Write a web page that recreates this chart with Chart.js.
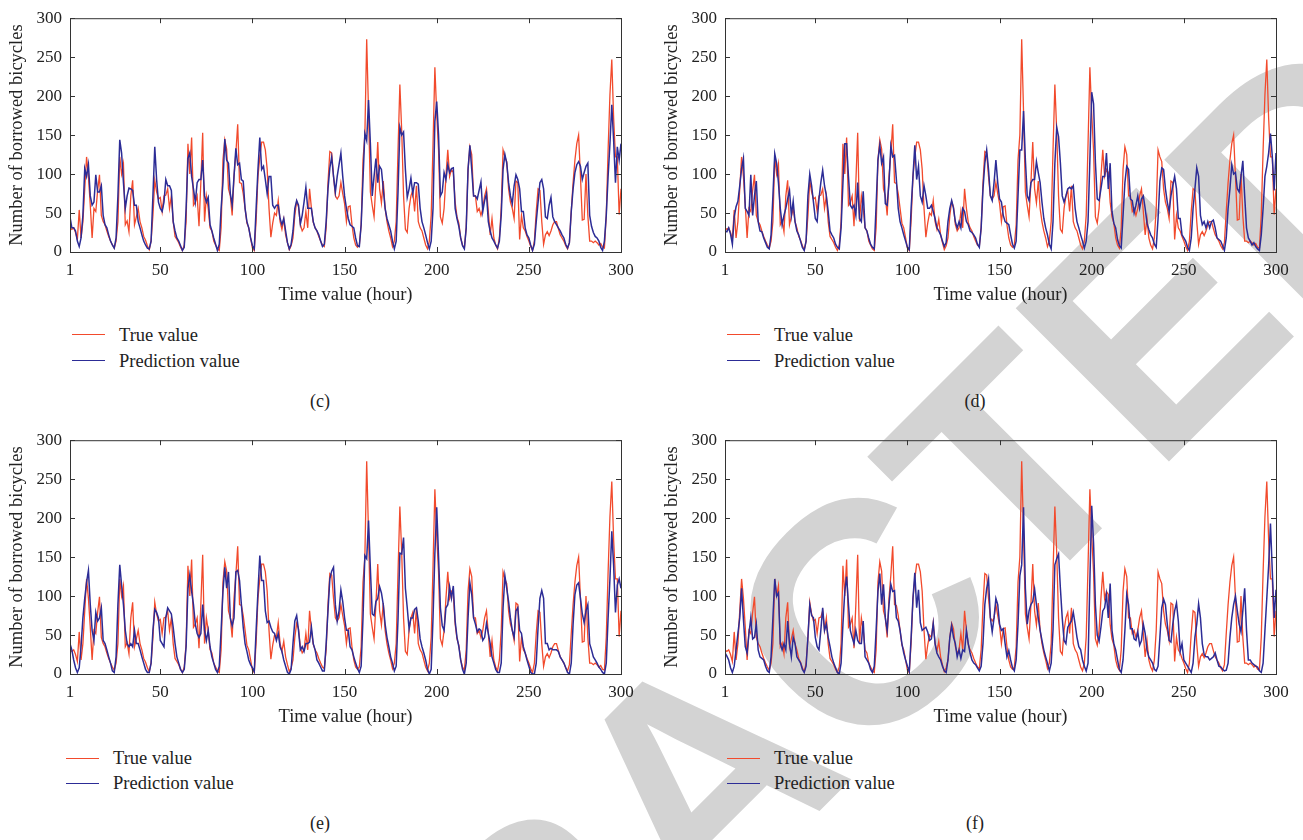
<!DOCTYPE html>
<html lang="en">
<head>
<meta charset="UTF-8">
<title>Number of borrowed bicycles - true vs prediction</title>
<script src="https://cdn.jsdelivr.net/npm/chart.js@4.4.1/dist/chart.umd.min.js"></script>
<style>
  html, body { margin: 0; padding: 0; background: #fff; }
  body {
    width: 1303px; height: 840px; position: relative; overflow: hidden;
    font-family: 'Liberation Serif', 'Times New Roman', serif; color: #222;
  }
  /* big grey stamp behind the plots */
  .watermark {
    position: absolute; left: 700px; top: 777px;
    transform: translate(-50%, -50%) rotate(-45deg);
    font-family: 'Liberation Sans', Arial, sans-serif; font-weight: bold;
    font-size: 315px; line-height: 1; color: #d3d3d3; white-space: nowrap;
    z-index: 0;
  }
  .panel { position: absolute; width: 650px; height: 320px; z-index: 1; }
  .legend { position: absolute; z-index: 2; font-size: 18.5px; }
  .legend div { position: relative; height: 26px; line-height: 26px; padding-left: 47px; white-space: nowrap; }
  .legend .swatch { position: absolute; left: 0; top: 12px; width: 33px; height: 0; border-top: 1.5px solid; }
  .tag { position: absolute; z-index: 2; font-size: 18px; line-height: 20px; transform: translateX(-50%); }
</style>
</head>
<body>
  <div class="watermark">RETRACTED</div>

  <div class="panel" style="left:0;top:0"><canvas id="chartC" width="650" height="320"></canvas></div>
  <div class="panel" style="left:655px;top:0"><canvas id="chartD" width="650" height="320"></canvas></div>
  <div class="panel" style="left:0;top:422px"><canvas id="chartE" width="650" height="320"></canvas></div>
  <div class="panel" style="left:655px;top:422px"><canvas id="chartF" width="650" height="320"></canvas></div>

  <div class="legend" style="left:72px;top:322px">
    <div><span class="swatch" style="border-color:#f24a2c"></span>True value</div>
    <div><span class="swatch" style="border-color:#2c2c96"></span>Prediction value</div>
  </div>
  <div class="legend" style="left:727px;top:322px">
    <div><span class="swatch" style="border-color:#f24a2c"></span>True value</div>
    <div><span class="swatch" style="border-color:#2c2c96"></span>Prediction value</div>
  </div>
  <div class="legend" style="left:66px;top:746px">
    <div style="height:25px;line-height:25px"><span class="swatch" style="border-color:#f24a2c"></span>True value</div>
    <div style="height:25px;line-height:25px"><span class="swatch" style="border-color:#2c2c96"></span>Prediction value</div>
  </div>
  <div class="legend" style="left:727px;top:746px">
    <div style="height:25px;line-height:25px"><span class="swatch" style="border-color:#f24a2c"></span>True value</div>
    <div style="height:25px;line-height:25px"><span class="swatch" style="border-color:#2c2c96"></span>Prediction value</div>
  </div>

  <div class="tag" style="left:320px;top:391px">(c)</div>
  <div class="tag" style="left:975px;top:391px">(d)</div>
  <div class="tag" style="left:320px;top:813px">(e)</div>
  <div class="tag" style="left:975px;top:813px">(f)</div>

<script>
  // x categories (hour index) and tick values
  const hours = Array.from({ length: 300 }, (_, i) => i + 1);
  const xTicks = [1, 50, 100, 150, 200, 250, 300];
  const yTicks = [0, 50, 100, 150, 200, 250, 300];

  // observed counts (same in all four panels)
  const trueValue = [
    31, 29, 31, 25, 16, 54, 18, 39, 81, 122,
    97, 60, 18, 56, 52, 79, 99, 47, 39, 35,
    27, 20, 14, 9, 5, 14, 39, 122, 100, 113,
    35, 40, 26, 72, 92, 35, 45, 56, 39, 31,
    20, 15, 8, 3, 14, 47, 92, 77, 68, 70,
    52, 72, 73, 81, 56, 72, 39, 20, 16, 12,
    6, 2, 9, 39, 139, 100, 147, 60, 64, 72,
    33, 89, 153, 39, 72, 56, 31, 27, 14, 9,
    4, 2, 31, 118, 144, 132, 81, 72, 47, 97,
    127, 164, 89, 88, 75, 56, 37, 31, 18, 5,
    2, 40, 97, 122, 141, 141, 131, 106, 56, 19,
    37, 50, 47, 66, 39, 29, 42, 22, 12, 3,
    8, 18, 47, 65, 58, 35, 27, 31, 52, 31,
    81, 56, 38, 31, 27, 20, 14, 9, 7, 31,
    89, 129, 127, 97, 72, 68, 72, 89, 75, 62,
    39, 58, 59, 35, 18, 9, 6, 9, 35, 118,
    150, 273, 180, 77, 60, 45, 89, 141, 81, 63,
    91, 56, 39, 27, 18, 7, 14, 39, 131, 215,
    156, 72, 29, 25, 56, 72, 79, 52, 85, 39,
    31, 27, 18, 9, 4, 14, 47, 139, 237, 177,
    130, 45, 37, 56, 97, 131, 97, 106, 102, 64,
    45, 37, 18, 9, 5, 31, 106, 135, 125, 72,
    72, 52, 56, 47, 56, 72, 81, 52, 22, 43,
    18, 9, 4, 18, 56, 131, 122, 116, 81, 64,
    56, 43, 91, 89, 16, 47, 31, 27, 20, 14,
    7, 2, 14, 52, 81, 79, 39, 10, 22, 26,
    21, 27, 35, 39, 39, 30, 22, 18, 14, 8,
    4, 12, 52, 89, 118, 139, 150, 97, 41, 42,
    100, 47, 14, 14, 12, 14, 12, 9, 11, 6,
    5, 47, 131, 202, 247, 172, 122, 122, 48, 81
  ];

  // model predictions, one per panel
  const predC = [
    45, 31, 31, 27, 14, 7, 18, 47, 107, 97,
    112, 72, 60, 64, 99, 77, 77, 85, 47, 35,
    31, 22, 14, 9, 5, 18, 72, 144, 127, 89,
    56, 72, 82, 81, 79, 60, 60, 39, 31, 22,
    14, 9, 5, 4, 14, 72, 135, 93, 64, 56,
    52, 64, 93, 85, 85, 79, 39, 27, 18, 14,
    8, 2, 6, 56, 120, 127, 97, 81, 64, 89,
    93, 93, 118, 72, 64, 70, 35, 27, 18, 10,
    2, 10, 56, 89, 145, 118, 114, 75, 60, 97,
    133, 112, 114, 93, 91, 56, 39, 31, 18, 8,
    4, 56, 106, 147, 106, 110, 93, 75, 97, 97,
    60, 56, 60, 60, 43, 35, 43, 27, 12, 4,
    10, 27, 56, 66, 60, 36, 47, 64, 83, 56,
    56, 56, 39, 31, 27, 22, 14, 7, 10, 39,
    81, 108, 122, 97, 77, 97, 112, 127, 97, 72,
    56, 43, 35, 33, 31, 18, 8, 7, 35, 93,
    152, 143, 195, 139, 72, 97, 120, 89, 110, 106,
    81, 56, 43, 35, 27, 14, 4, 14, 77, 160,
    150, 154, 106, 70, 81, 95, 75, 89, 89, 87,
    56, 39, 31, 22, 12, 4, 14, 56, 168, 193,
    150, 72, 77, 102, 93, 112, 102, 107, 108, 56,
    43, 33, 18, 8, 4, 31, 106, 137, 106, 72,
    72, 68, 79, 90, 52, 66, 75, 39, 27, 18,
    14, 9, 5, 14, 47, 106, 125, 114, 89, 72,
    62, 85, 99, 93, 81, 52, 52, 31, 22, 18,
    9, 2, 10, 39, 64, 89, 93, 81, 45, 43,
    60, 70, 45, 39, 35, 31, 27, 22, 18, 10,
    5, 12, 52, 81, 102, 112, 116, 110, 93, 102,
    110, 114, 47, 33, 25, 20, 18, 14, 6, 2,
    14, 47, 97, 139, 189, 143, 89, 135, 118, 139
  ];

  const predD = [
    27, 26, 31, 23, 10, 45, 58, 65, 85, 107,
    120, 56, 52, 47, 99, 47, 72, 91, 39, 27,
    26, 18, 12, 6, 4, 22, 72, 126, 114, 89,
    56, 35, 47, 56, 68, 79, 47, 65, 39, 27,
    22, 14, 6, 2, 14, 72, 100, 85, 64, 43,
    39, 68, 89, 105, 85, 72, 52, 27, 22, 18,
    10, 6, 4, 31, 89, 139, 139, 97, 60, 56,
    60, 47, 89, 43, 39, 78, 31, 27, 18, 10,
    6, 4, 60, 118, 137, 114, 122, 62, 60, 89,
    136, 122, 124, 93, 56, 39, 31, 22, 14, 6,
    3, 56, 97, 137, 93, 110, 72, 64, 85, 72,
    56, 56, 60, 52, 43, 31, 27, 22, 14, 7,
    12, 39, 56, 66, 56, 39, 31, 39, 31, 56,
    52, 39, 35, 27, 25, 22, 18, 10, 6, 31,
    81, 114, 131, 106, 72, 66, 89, 118, 89, 68,
    64, 47, 39, 37, 35, 22, 10, 5, 14, 72,
    131, 131, 181, 118, 72, 66, 89, 93, 93, 116,
    102, 89, 64, 43, 31, 22, 10, 4, 39, 114,
    160, 148, 114, 72, 64, 72, 81, 83, 81, 85,
    56, 39, 31, 22, 14, 5, 14, 39, 118, 205,
    190, 115, 68, 66, 81, 97, 97, 127, 81, 114,
    52, 37, 31, 16, 8, 5, 47, 89, 110, 106,
    68, 66, 50, 60, 72, 56, 68, 72, 56, 37,
    29, 22, 18, 10, 6, 43, 91, 108, 106, 81,
    64, 52, 72, 85, 97, 81, 43, 43, 22, 18,
    14, 6, 2, 18, 56, 81, 108, 97, 47, 35,
    39, 31, 39, 31, 39, 41, 31, 18, 16, 14,
    8, 2, 18, 56, 81, 112, 100, 102, 81, 77,
    97, 117, 72, 31, 18, 14, 9, 12, 7, 4,
    2, 22, 56, 97, 110, 127, 152, 122, 79, 127
  ];

  const predE = [
    39, 31, 18, 8, 2, 8, 35, 72, 97, 118,
    133, 89, 56, 43, 79, 68, 72, 85, 43, 39,
    31, 22, 14, 4, 2, 22, 89, 140, 114, 89,
    56, 39, 35, 39, 35, 56, 39, 39, 31, 22,
    14, 6, 2, 2, 14, 56, 83, 79, 72, 43,
    39, 35, 72, 85, 81, 77, 60, 39, 22, 14,
    6, 2, 6, 35, 110, 127, 106, 89, 64, 52,
    47, 52, 89, 56, 43, 56, 35, 22, 14, 6,
    2, 10, 56, 106, 137, 110, 131, 72, 62, 72,
    131, 133, 120, 89, 60, 39, 29, 18, 12, 8,
    3, 56, 106, 152, 120, 120, 81, 66, 68, 60,
    54, 52, 43, 52, 35, 29, 18, 10, 2, 0,
    6, 39, 68, 75, 56, 31, 35, 29, 39, 39,
    41, 60, 39, 31, 18, 14, 9, 4, 4, 39,
    81, 122, 132, 137, 89, 68, 81, 108, 93, 72,
    56, 56, 35, 31, 22, 14, 7, 2, 10, 72,
    152, 148, 197, 135, 77, 75, 93, 97, 112, 104,
    89, 64, 47, 35, 22, 14, 4, 10, 70, 155,
    154, 175, 110, 85, 58, 72, 72, 83, 85, 68,
    45, 35, 27, 18, 6, 0, 6, 72, 155, 214,
    150, 85, 62, 56, 85, 89, 112, 97, 113, 68,
    47, 35, 18, 6, 0, 14, 72, 117, 102, 72,
    64, 54, 58, 56, 43, 47, 65, 52, 39, 22,
    14, 6, 2, 2, 14, 85, 126, 110, 93, 72,
    56, 47, 81, 85, 56, 52, 35, 27, 18, 10,
    2, 0, 0, 14, 60, 97, 107, 97, 39, 39,
    31, 33, 31, 31, 31, 29, 22, 18, 14, 8,
    2, 0, 14, 64, 102, 114, 117, 97, 77, 66,
    81, 89, 39, 31, 22, 18, 14, 9, 6, 2,
    0, 14, 72, 122, 183, 139, 79, 114, 122, 110
  ];

  const predF = [
    27, 23, 18, 8, 2, 10, 31, 52, 72, 110,
    70, 35, 27, 52, 72, 45, 47, 64, 31, 22,
    20, 18, 10, 4, 2, 22, 72, 122, 100, 104,
    39, 31, 39, 31, 68, 39, 22, 47, 39, 22,
    18, 14, 6, 2, 10, 47, 89, 75, 72, 47,
    35, 31, 56, 85, 56, 64, 47, 35, 22, 14,
    8, 2, 0, 14, 64, 106, 125, 89, 56, 47,
    39, 56, 43, 39, 39, 68, 22, 18, 14, 6,
    2, 10, 56, 106, 129, 89, 115, 72, 56, 89,
    115, 106, 107, 72, 68, 56, 39, 27, 18, 10,
    3, 47, 97, 130, 85, 108, 66, 56, 58, 60,
    54, 43, 45, 65, 39, 27, 22, 18, 10, 4,
    2, 18, 47, 62, 47, 39, 22, 31, 20, 31,
    29, 56, 39, 27, 18, 14, 12, 8, 4, 10,
    39, 89, 110, 122, 72, 54, 72, 97, 89, 64,
    56, 58, 39, 22, 30, 18, 8, 4, 18, 64,
    126, 140, 214, 110, 64, 81, 89, 93, 109, 89,
    72, 56, 43, 31, 22, 14, 4, 14, 56, 140,
    148, 154, 110, 72, 43, 39, 60, 64, 68, 79,
    64, 47, 35, 31, 18, 10, 4, 14, 120, 216,
    168, 89, 50, 42, 60, 81, 85, 102, 72, 116,
    56, 39, 31, 18, 6, 2, 18, 56, 102, 89,
    58, 58, 45, 43, 54, 37, 43, 64, 52, 31,
    22, 18, 14, 6, 4, 10, 47, 85, 96, 89,
    64, 43, 41, 64, 81, 91, 68, 29, 39, 18,
    14, 10, 6, 2, 14, 47, 64, 90, 72, 39,
    25, 22, 22, 18, 20, 22, 27, 18, 10, 9,
    6, 4, 5, 14, 47, 72, 89, 100, 81, 64,
    54, 81, 110, 56, 18, 18, 14, 12, 10, 9,
    4, 2, 14, 56, 97, 139, 193, 131, 72, 108
  ];

  const RED = '#f24a2c';
  const BLUE = '#2c2c96';
  const INK = '#222';

  Chart.defaults.font.family = "'Liberation Serif', 'Times New Roman', serif";
  Chart.defaults.font.size = 17;
  Chart.defaults.color = INK;

  // full box with inward ticks on all four sides
  const boxPlugin = {
    id: 'box',
    afterDatasetsDraw(chart) {
      const { ctx, chartArea: a, scales: { x, y } } = chart;
      const len = 5;
      ctx.save();
      ctx.strokeStyle = '#333';
      ctx.lineWidth = 1;
      ctx.strokeRect(a.left + 0.5, a.top + 0.5, a.right - a.left, a.bottom - a.top);
      ctx.beginPath();
      xTicks.forEach(v => {
        const px = Math.round(x.getPixelForValue(v)) + 0.5;
        ctx.moveTo(px, a.bottom); ctx.lineTo(px, a.bottom - len);
        ctx.moveTo(px, a.top); ctx.lineTo(px, a.top + len);
      });
      yTicks.forEach(v => {
        const py = Math.round(y.getPixelForValue(v)) + 0.5;
        ctx.moveTo(a.left, py); ctx.lineTo(a.left + len, py);
        ctx.moveTo(a.right, py); ctx.lineTo(a.right - len, py);
      });
      ctx.stroke();
      ctx.restore();
    }
  };

  function makePanel(id, pred) {
    return new Chart(document.getElementById(id), {
      type: 'line',
      data: {
        labels: hours,
        datasets: [
          { label: 'True value', data: trueValue, borderColor: RED, borderWidth: 1.3, pointRadius: 0, tension: 0, order: 1 },
          { label: 'Prediction value', data: pred, borderColor: BLUE, borderWidth: 1.5, pointRadius: 0, tension: 0, order: 0 }
        ]
      },
      options: {
        responsive: false,
        animation: false,
        devicePixelRatio: 1,
        layout: { padding: { top: 12, right: 29, left: 0, bottom: 0 } },
        plugins: { legend: { display: false }, tooltip: { enabled: false } },
        scales: {
          x: {
            type: 'linear',
            min: 1,
            max: 300,
            afterBuildTicks: s => { s.ticks = xTicks.map(v => ({ value: v })); },
            afterFit: s => { s.height = 68; },
            grid: { display: false, drawTicks: false },
            border: { display: false },
            ticks: { padding: 8, maxRotation: 0, autoSkip: false, color: INK },
            title: { display: true, text: 'Time value (hour)', color: INK, font: { size: 18.5 }, padding: { top: 0, bottom: 14 } }
          },
          y: {
            min: 0,
            max: 300,
            afterBuildTicks: s => { s.ticks = yTicks.map(v => ({ value: v })); },
            afterFit: s => { s.width = 70; },
            grid: { display: false, drawTicks: false },
            border: { display: false },
            ticks: { padding: 8, color: INK },
            title: { display: true, text: 'Number of borrowed bicycles', color: INK, font: { size: 18.5 }, padding: { top: 6, bottom: 0 } }
          }
        }
      },
      plugins: [boxPlugin]
    });
  }

  makePanel('chartC', predC);
  makePanel('chartD', predD);
  makePanel('chartE', predE);
  makePanel('chartF', predF);
</script>
</body>
</html>
